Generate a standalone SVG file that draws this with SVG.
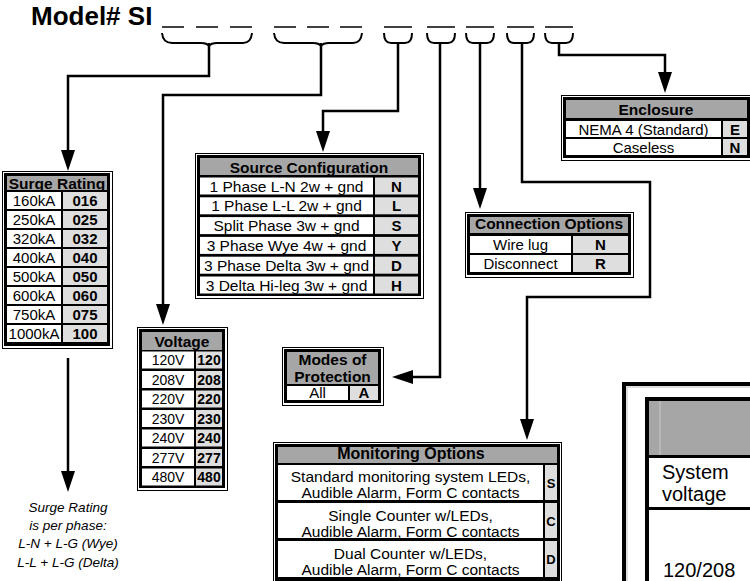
<svg xmlns="http://www.w3.org/2000/svg" width="750" height="581" viewBox="0 0 750 581">
<defs>
<style>
text { font-family: "Liberation Sans", Arial, sans-serif; fill:#000; }
.title { font-size:26px; font-weight:bold; }
.h { font-weight:bold; font-size:15.5px; text-anchor:middle; }
.l { font-size:15px; text-anchor:middle; }
.c { font-weight:bold; font-size:15px; text-anchor:middle; }
.m { font-size:15.5px; text-anchor:middle; }
.note { font-size:13.5px; font-style:italic; text-anchor:middle; }
.big { font-size:20px; }
.hd { fill:#a6a6a6; }
.wc { fill:#fff; }
.cc { fill:#dedede; }
.frame { fill:none; stroke:#000; stroke-width:1; }
.body { fill:#000; }
.conn path { fill:none; stroke:#000; stroke-width:2.5; }
.br path { fill:none; stroke:#000; stroke-width:2; }
.dash line { stroke:#000; stroke-width:1.5; }
</style>
<marker id="ah" markerUnits="userSpaceOnUse" markerWidth="21" markerHeight="14" viewBox="0 0 21 14" refX="11" refY="7" orient="auto">
<path d="M0,0 L21,7 L0,14 z" fill="#000"/>
</marker>
</defs>
<rect width="750" height="581" fill="#fff"/>

<g id="title">
<text class="title" x="31" y="25">Model# SI</text>
</g>

<g id="slots" class="dash">
<line x1="162" y1="27" x2="184" y2="27"/>
<line x1="196" y1="27" x2="218" y2="27"/>
<line x1="230" y1="27" x2="252" y2="27"/>
<line x1="274" y1="27" x2="296" y2="27"/>
<line x1="307" y1="27" x2="329" y2="27"/>
<line x1="340" y1="27" x2="362" y2="27"/>
<line x1="384" y1="27" x2="412" y2="27"/>
<line x1="427" y1="27" x2="455" y2="27"/>
<line x1="466" y1="27" x2="494" y2="27"/>
<line x1="507" y1="27" x2="534" y2="27"/>
<line x1="545" y1="27" x2="573" y2="27"/>
</g>

<g id="brackets" class="br">
<path d="M162,33 Q163,43 172,43 H201 Q207,43 209,46 Q211,43 217,43 H243 Q251,43 252,33"/>
<path d="M274,33 Q275,43 284,43 H313 Q319,43 321,46 Q323,43 329,43 H353 Q361,43 362,33"/>
<path d="M384,33 Q384,43 391,43 H405 Q412,43 412,33"/>
<path d="M427,33 Q427,43 434,43 H448 Q455,43 455,33"/>
<path d="M466,33 Q466,43 473,43 H487 Q494,43 494,33"/>
<path d="M507,33 Q507,43 514,43 H527 Q534,43 534,33"/>
<path d="M545,33 Q545,43 552,43 H566 Q573,43 573,33"/>
</g>

<g id="connectors" class="conn">
<path d="M209,43 V76 H68 V161" marker-end="url(#ah)"/>
<path d="M321,43 V95 H163 V315" marker-end="url(#ah)"/>
<path d="M398,43 V111 H323 V142" marker-end="url(#ah)"/>
<path d="M440,43 V377 H402" marker-end="url(#ah)"/>
<path d="M480,43 V199" marker-end="url(#ah)"/>
<path d="M522,43 V182 H650 V297 H527 V430" marker-end="url(#ah)"/>
<path d="M559,43 V55 H665 V83" marker-end="url(#ah)"/>
<path d="M68,358 V482" marker-end="url(#ah)"/>
</g>

<g id="surge-rating">
<rect class="frame" x="2.5" y="171.5" width="110" height="177"/>
<rect class="body" x="4" y="173" width="106" height="173"/>
<rect class="hd" x="7" y="176" width="100" height="14"/>
<text class="h" x="57" y="188.5">Surge Rating</text>
<rect class="wc" x="7" y="192" width="54" height="17"/><rect class="cc" x="63" y="192" width="44" height="17"/>
<rect class="wc" x="7" y="211" width="54" height="17"/><rect class="cc" x="63" y="211" width="44" height="17"/>
<rect class="wc" x="7" y="230" width="54" height="17"/><rect class="cc" x="63" y="230" width="44" height="17"/>
<rect class="wc" x="7" y="249" width="54" height="17"/><rect class="cc" x="63" y="249" width="44" height="17"/>
<rect class="wc" x="7" y="268" width="54" height="17"/><rect class="cc" x="63" y="268" width="44" height="17"/>
<rect class="wc" x="7" y="287" width="54" height="17"/><rect class="cc" x="63" y="287" width="44" height="17"/>
<rect class="wc" x="7" y="306" width="54" height="17"/><rect class="cc" x="63" y="306" width="44" height="17"/>
<rect class="wc" x="7" y="325" width="54" height="17"/><rect class="cc" x="63" y="325" width="44" height="17"/>
<text class="l" x="34" y="205.5">160kA</text><text class="c" x="85" y="205.5">016</text>
<text class="l" x="34" y="224.5">250kA</text><text class="c" x="85" y="224.5">025</text>
<text class="l" x="34" y="243.5">320kA</text><text class="c" x="85" y="243.5">032</text>
<text class="l" x="34" y="262.5">400kA</text><text class="c" x="85" y="262.5">040</text>
<text class="l" x="34" y="281.5">500kA</text><text class="c" x="85" y="281.5">050</text>
<text class="l" x="34" y="300.5">600kA</text><text class="c" x="85" y="300.5">060</text>
<text class="l" x="34" y="319.5">750kA</text><text class="c" x="85" y="319.5">075</text>
<text class="l" x="34" y="338.5">1000kA</text><text class="c" x="85" y="338.5">100</text>
</g>

<g id="surge-note">
<text class="note" x="68" y="512">Surge Rating</text>
<text class="note" x="68" y="530">is per phase:</text>
<text class="note" x="68" y="548">L-N + L-G (Wye)</text>
<text class="note" x="68" y="567">L-L + L-G (Delta)</text>
</g>

<g id="voltage">
<rect class="frame" x="137.5" y="327.5" width="90" height="163"/>
<rect class="body" x="139" y="329" width="86" height="159"/>
<rect class="hd" x="142" y="332" width="80" height="18"/>
<text class="h" x="182" y="347">Voltage</text>
<rect class="wc" x="142" y="351.5" width="52" height="17"/><rect class="cc" x="196" y="351.5" width="26" height="17"/>
<rect class="wc" x="142" y="371" width="52" height="17"/><rect class="cc" x="196" y="371" width="26" height="17"/>
<rect class="wc" x="142" y="390.5" width="52" height="17"/><rect class="cc" x="196" y="390.5" width="26" height="17"/>
<rect class="wc" x="142" y="410" width="52" height="17"/><rect class="cc" x="196" y="410" width="26" height="17"/>
<rect class="wc" x="142" y="429.5" width="52" height="17"/><rect class="cc" x="196" y="429.5" width="26" height="17"/>
<rect class="wc" x="142" y="449" width="52" height="17"/><rect class="cc" x="196" y="449" width="26" height="17"/>
<rect class="wc" x="142" y="468.5" width="52" height="17"/><rect class="cc" x="196" y="468.5" width="26" height="17"/>
<text class="l" x="168" y="365" style="font-size:14px">120V</text><text class="c" x="209" y="365" style="font-size:14px">120</text>
<text class="l" x="168" y="384.5" style="font-size:14px">208V</text><text class="c" x="209" y="384.5" style="font-size:14px">208</text>
<text class="l" x="168" y="404" style="font-size:14px">220V</text><text class="c" x="209" y="404" style="font-size:14px">220</text>
<text class="l" x="168" y="423.5" style="font-size:14px">230V</text><text class="c" x="209" y="423.5" style="font-size:14px">230</text>
<text class="l" x="168" y="443" style="font-size:14px">240V</text><text class="c" x="209" y="443" style="font-size:14px">240</text>
<text class="l" x="168" y="462.5" style="font-size:14px">277V</text><text class="c" x="209" y="462.5" style="font-size:14px">277</text>
<text class="l" x="168" y="482" style="font-size:14px">480V</text><text class="c" x="209" y="482" style="font-size:14px">480</text>
</g>

<g id="source-configuration">
<rect class="frame" x="195.5" y="153.5" width="228" height="145"/>
<rect class="body" x="197" y="155" width="224" height="141"/>
<rect class="hd" x="200" y="158" width="218" height="17"/>
<text class="h" x="309" y="172.5">Source Configuration</text>
<rect class="wc" x="200" y="177.5" width="173" height="17"/><rect class="cc" x="375" y="177.5" width="43" height="17"/>
<rect class="wc" x="200" y="197.3" width="173" height="17"/><rect class="cc" x="375" y="197.3" width="43" height="17"/>
<rect class="wc" x="200" y="217.1" width="173" height="17"/><rect class="cc" x="375" y="217.1" width="43" height="17"/>
<rect class="wc" x="200" y="236.9" width="173" height="17"/><rect class="cc" x="375" y="236.9" width="43" height="17"/>
<rect class="wc" x="200" y="256.7" width="173" height="17"/><rect class="cc" x="375" y="256.7" width="43" height="17"/>
<rect class="wc" x="200" y="276.5" width="173" height="17"/><rect class="cc" x="375" y="276.5" width="43" height="17"/>
<text class="m" x="286.5" y="191.5">1 Phase L-N 2w + gnd</text><text class="c" x="396.5" y="191.5">N</text>
<text class="m" x="286.5" y="211.3">1 Phase L-L 2w + gnd</text><text class="c" x="396.5" y="211.3">L</text>
<text class="m" x="286.5" y="231.1">Split Phase 3w + gnd</text><text class="c" x="396.5" y="231.1">S</text>
<text class="m" x="286.5" y="250.9">3 Phase Wye 4w + gnd</text><text class="c" x="396.5" y="250.9">Y</text>
<text class="m" x="286.5" y="270.7">3 Phase Delta 3w + gnd</text><text class="c" x="396.5" y="270.7">D</text>
<text class="m" x="286.5" y="290.5">3 Delta Hi-leg 3w + gnd</text><text class="c" x="396.5" y="290.5">H</text>
</g>

<g id="modes-of-protection">
<rect class="frame" x="282.5" y="347.5" width="101" height="58"/>
<rect class="body" x="284" y="349" width="97" height="54"/>
<rect class="hd" x="287" y="352" width="91" height="32"/>
<text class="h" x="332.5" y="364.5" style="font-size:15.5px">Modes of</text>
<text class="h" x="332.5" y="381.5" style="font-size:15.5px">Protection</text>
<rect class="wc" x="287" y="386" width="61" height="14"/><rect class="cc" x="350" y="386" width="28" height="14"/>
<text class="l" x="317.5" y="398">All</text><text class="c" x="364" y="398">A</text>
</g>

<g id="connection-options">
<rect class="frame" x="465.5" y="212.5" width="168" height="65"/>
<rect class="body" x="467" y="214" width="164" height="61"/>
<rect class="hd" x="470" y="217" width="158" height="16"/>
<text class="h" x="549" y="229">Connection Options</text>
<rect class="wc" x="470" y="236" width="101" height="17"/><rect class="cc" x="573" y="236" width="55" height="17"/>
<rect class="wc" x="470" y="255" width="101" height="17"/><rect class="cc" x="573" y="255" width="55" height="17"/>
<text class="l" x="520.5" y="250">Wire lug</text><text class="c" x="600.5" y="250">N</text>
<text class="l" x="520.5" y="269">Disconnect</text><text class="c" x="600.5" y="269">R</text>
</g>

<g id="enclosure">
<rect class="frame" x="561.5" y="95.5" width="192" height="65"/>
<rect class="body" x="563" y="97" width="187" height="61"/>
<rect class="hd" x="566" y="100" width="181" height="18"/>
<text class="h" x="656" y="115">Enclosure</text>
<rect class="wc" x="566" y="121" width="155" height="16"/><rect class="cc" x="723" y="121" width="24" height="16"/>
<rect class="wc" x="566" y="139" width="155" height="16"/><rect class="cc" x="723" y="139" width="24" height="16"/>
<text class="l" x="643.5" y="134.5">NEMA 4 (Standard)</text><text class="c" x="735" y="134.5">E</text>
<text class="l" x="643.5" y="152.5">Caseless</text><text class="c" x="735" y="152.5">N</text>
</g>

<g id="monitoring-options">
<rect class="frame" x="273.5" y="442.5" width="288" height="140"/>
<rect class="body" x="275" y="444" width="285" height="137"/>
<rect class="hd" x="278" y="447" width="279" height="16"/>
<text class="h" x="411" y="459" style="font-size:16px">Monitoring Options</text>
<rect class="wc" x="278" y="465" width="265" height="35"/><rect class="cc" x="545" y="465" width="12" height="35"/>
<rect class="wc" x="278" y="503" width="265" height="35"/><rect class="cc" x="545" y="503" width="12" height="35"/>
<rect class="wc" x="278" y="541" width="265" height="36"/><rect class="cc" x="545" y="541" width="12" height="36"/>
<text class="m" x="410.5" y="482">Standard monitoring system LEDs,</text>
<text class="m" x="410.5" y="498">Audible Alarm, Form C contacts</text>
<text class="c" x="551" y="487.5" style="font-size:13px">S</text>
<text class="m" x="410.5" y="521">Single Counter w/LEDs,</text>
<text class="m" x="410.5" y="537">Audible Alarm, Form C contacts</text>
<text class="c" x="551" y="525.5" style="font-size:13px">C</text>
<text class="m" x="410.5" y="559">Dual Counter w/LEDs,</text>
<text class="m" x="410.5" y="575">Audible Alarm, Form C contacts</text>
<text class="c" x="551" y="564" style="font-size:13px">D</text>
</g>

<g id="system-voltage-table">
<rect x="624" y="384" width="200" height="300" fill="none" stroke="#000" stroke-width="4"/>
<rect x="627" y="387" width="194" height="294" fill="none" stroke="#bbb" stroke-width="1"/>
<rect x="649" y="401" width="110" height="54" fill="#a6a6a6"/>
<line x1="660" y1="401" x2="660" y2="455" stroke="#c8c8c8" stroke-width="1"/>
<rect x="647" y="399" width="200" height="300" fill="none" stroke="#000" stroke-width="4"/>
<line x1="647" y1="456.5" x2="750" y2="456.5" stroke="#000" stroke-width="3"/>
<line x1="647" y1="508.5" x2="750" y2="508.5" stroke="#000" stroke-width="3"/>
<text class="big" x="662" y="479">System</text>
<text class="big" x="662" y="501">voltage</text>
<text class="big" x="663" y="577">120/208</text>
</g>
</svg>
